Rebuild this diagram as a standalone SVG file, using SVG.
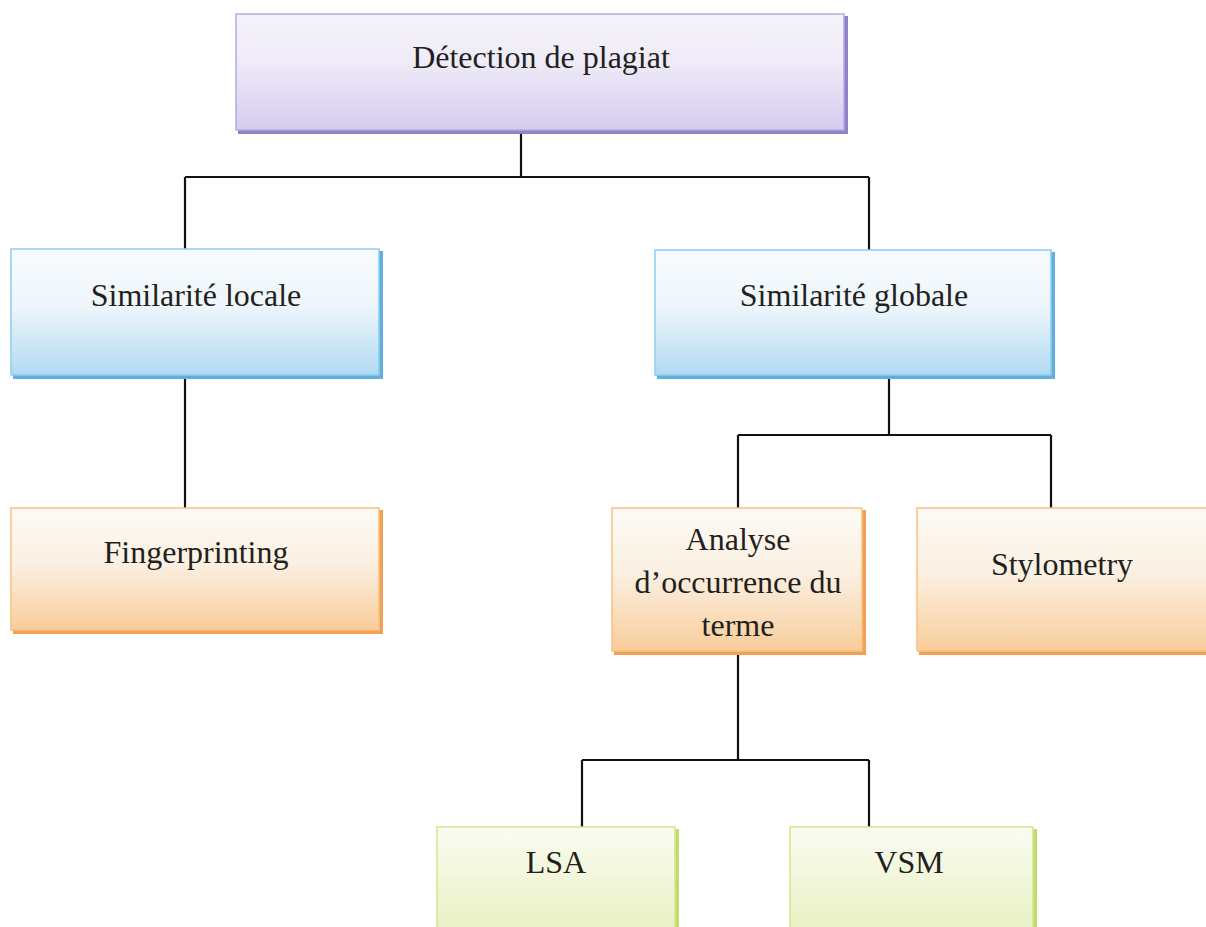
<svg xmlns="http://www.w3.org/2000/svg" width="1206" height="927" viewBox="0 0 1206 927">
  <defs>
    <linearGradient id="gPurple" x1="0" y1="0" x2="0" y2="1">
      <stop offset="0" stop-color="#f5f3fb"/>
      <stop offset="0.4" stop-color="#efebf8"/>
      <stop offset="1" stop-color="#d6ccef"/>
    </linearGradient>
    <linearGradient id="gBlue" x1="0" y1="0" x2="0" y2="1">
      <stop offset="0" stop-color="#f7fbfd"/>
      <stop offset="0.45" stop-color="#eef6fb"/>
      <stop offset="1" stop-color="#b0daf2"/>
    </linearGradient>
    <linearGradient id="gOrange" x1="0" y1="0" x2="0" y2="1">
      <stop offset="0" stop-color="#fdfaf5"/>
      <stop offset="0.45" stop-color="#fbf0e2"/>
      <stop offset="1" stop-color="#f8cd9b"/>
    </linearGradient>
    <linearGradient id="gGreen" x1="0" y1="0" x2="0" y2="1">
      <stop offset="0" stop-color="#fafcf2"/>
      <stop offset="1" stop-color="#e7f0c0"/>
    </linearGradient>
  </defs>
  <style>
    text { font-family: 'Liberation Serif', 'Times New Roman', 'DejaVu Serif', serif; }
    .lbl { font-size: 32px; fill: #231f20; text-anchor: middle; }
    .edge { stroke: #111; stroke-width: 2.2; fill: none; }
    .purple .box { fill: url(#gPurple); stroke: #b6a9e4; stroke-width: 1.5; }
    .purple .sh { fill: #8f82c8; }
    .blue .box { fill: url(#gBlue); stroke: #8fcdee; stroke-width: 1.5; }
    .blue .sh { fill: #5fb0e0; }
    .orange .box { fill: url(#gOrange); stroke: #f7c27f; stroke-width: 1.5; }
    .orange .sh { fill: #f0a155; }
    .green .box { fill: url(#gGreen); stroke: #d3e68e; stroke-width: 1.5; }
    .green .sh { fill: #c2dc6a; }
  </style>

  <rect width="1206" height="927" fill="#ffffff"/>

  <!-- connectors -->
  <g id="connectors">
    <path class="edge" d="M521 132 V177 M185 177 H869 M185 177 V249 M869 177 V250"/>
    <path class="edge" d="M185 377 V508"/>
    <path class="edge" d="M889 377 V435 M738 435 H1051 M738 435 V508 M1051 435 V508"/>
    <path class="edge" d="M738 653 V760 M582 760 H869 M582 760 V827 M869 760 V827"/>
  </g>

  <!-- root -->
  <g id="node-detection" class="purple">
    <rect class="sh" x="238" y="16" width="610" height="118"/>
    <rect class="box" x="236" y="14" width="608" height="116"/>
    <text class="lbl" x="541" y="68">Détection de plagiat</text>
  </g>

  <!-- second level -->
  <g id="node-locale" class="blue">
    <rect class="sh" x="13" y="251" width="370" height="128"/>
    <rect class="box" x="11" y="249" width="368" height="126"/>
    <text class="lbl" x="196" y="306">Similarité locale</text>
  </g>
  <g id="node-globale" class="blue">
    <rect class="sh" x="657" y="252" width="398" height="127"/>
    <rect class="box" x="655" y="250" width="396" height="125"/>
    <text class="lbl" x="854" y="306">Similarité globale</text>
  </g>

  <!-- third level -->
  <g id="node-fingerprinting" class="orange">
    <rect class="sh" x="13" y="510" width="370" height="124"/>
    <rect class="box" x="11" y="508" width="368" height="122"/>
    <text class="lbl" x="196" y="563">Fingerprinting</text>
  </g>
  <g id="node-analyse" class="orange">
    <rect class="sh" x="614" y="510" width="252" height="145"/>
    <rect class="box" x="612" y="508" width="250" height="143"/>
    <text class="lbl" x="738" y="550">Analyse</text>
    <text class="lbl" x="738" y="593">d’occurrence du</text>
    <text class="lbl" x="738" y="636">terme</text>
  </g>
  <g id="node-stylometry" class="orange">
    <rect class="sh" x="919" y="510" width="290" height="145"/>
    <rect class="box" x="917" y="508" width="290" height="143"/>
    <text class="lbl" x="1062" y="575">Stylometry</text>
  </g>

  <!-- fourth level -->
  <g id="node-lsa" class="green">
    <rect class="sh" x="439" y="829" width="240" height="110"/>
    <rect class="box" x="437" y="827" width="238" height="110"/>
    <text class="lbl" x="556" y="873">LSA</text>
  </g>
  <g id="node-vsm" class="green">
    <rect class="sh" x="792" y="829" width="245" height="110"/>
    <rect class="box" x="790" y="827" width="243" height="110"/>
    <text class="lbl" x="909" y="873">VSM</text>
  </g>
</svg>
